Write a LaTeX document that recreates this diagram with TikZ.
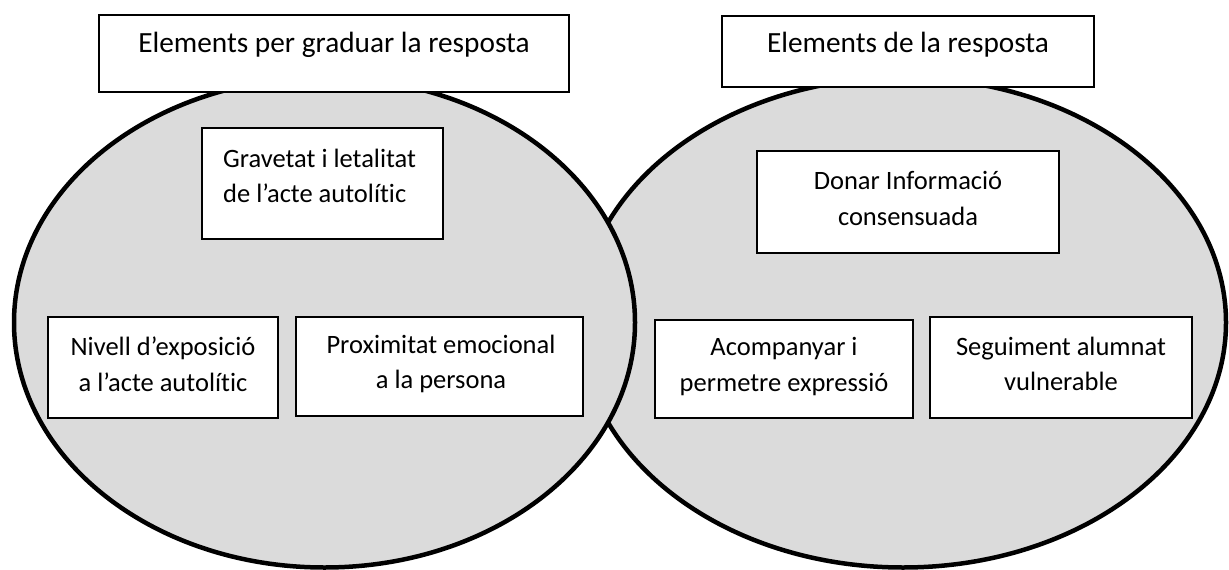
\documentclass[tikz,border=0pt]{standalone}
\usepackage{fontspec}
\setmainfont{Carlito}[Ligatures={NoCommon,NoContextual}]
\definecolor{ellfill}{RGB}{219,219,219}
\tikzset{
  venn/.style={draw=black, line width=4.5pt, fill=ellfill},
  tbox/.style={draw=black, line width=1.3pt, fill=white, rectangle, inner sep=0pt},
  txt/.style={font=\fontsize{26.5}{35.5}\selectfont, align=center, inner sep=0pt},
  head/.style={font=\fontsize{29.3}{36}\selectfont, align=center, inner sep=0pt}
}
\begin{document}
\begin{tikzpicture}[x=1pt,y=-1pt]
\useasboundingbox (0,0) rectangle (1229,570);
% ellipses (right first, left on top)
\draw[venn] (903,322.5) ellipse [x radius=323, y radius=245];
\draw[venn] (324.5,322.5) ellipse [x radius=310.5, y radius=245];
% header boxes
\node[tbox, minimum width=470pt, minimum height=77pt] (b1) at (334,53.5) {};
\node[head] (t1) at (334,45) {Elements per graduar la resposta};
\node[tbox, minimum width=372pt, minimum height=71pt] (b2) at (908,51.5) {};
\node[head] (t2) at (908,45) {Elements de la resposta};
% left items
\node[tbox, minimum width=241pt, minimum height=111pt] (g) at (322.5,183.5) {};
\node[txt, align=left, anchor=west] (tg) at (223,176) {Gravetat i letalitat\\de l’acte autolític};
\node[tbox, minimum width=230pt, minimum height=101pt] (n) at (163,367.5) {};
\node[txt] (tn) at (163,364) {Nivell d’exposició\\a l’acte autolític};
\node[tbox, minimum width=287pt, minimum height=99pt] (p) at (439.5,366.5) {};
\node[txt] (tp) at (441,364) {Proximitat emocional\\a la persona};
% right items
\node[tbox, minimum width=302pt, minimum height=102pt] (d) at (908,202) {};
\node[txt] (td) at (908,198.5) {Donar Informació\\consensuada};
\node[tbox, minimum width=258pt, minimum height=98pt] (a) at (784,369) {};
\node[txt] (ta) at (784,366.5) {Acompanyar i\\permetre expressió};
\node[tbox, minimum width=262pt, minimum height=101pt] (s) at (1061,367.5) {};
\node[txt] (ts) at (1061,364) {Seguiment alumnat\\vulnerable};
\end{tikzpicture}
\end{document}
